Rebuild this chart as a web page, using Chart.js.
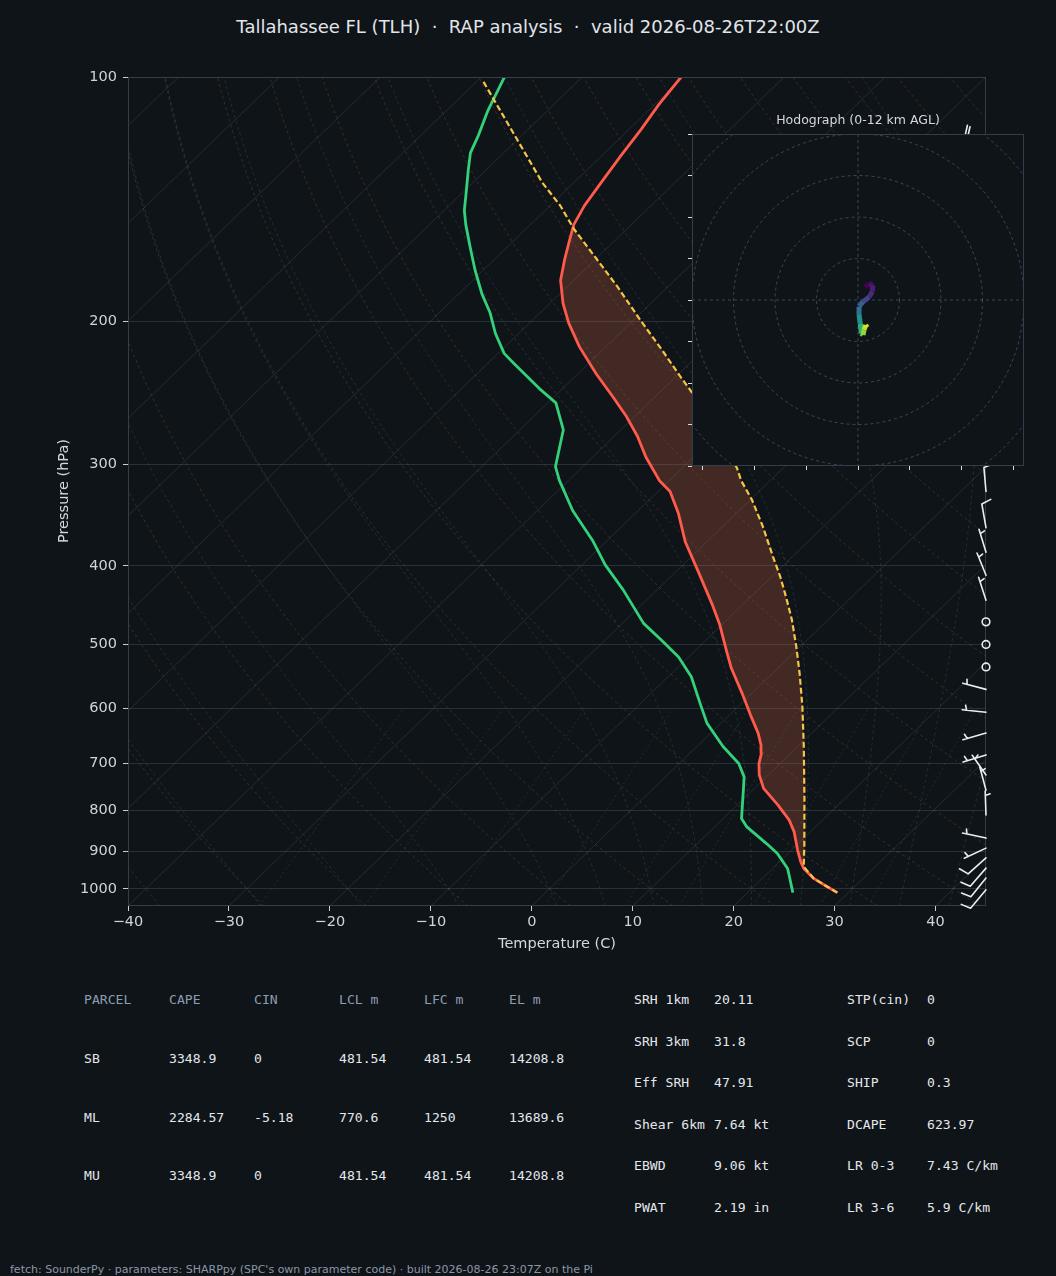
<!DOCTYPE html>
<html>
<head>
<meta charset="utf-8">
<script src="https://cdn.jsdelivr.net/npm/chart.js@4.4.1/dist/chart.umd.min.js"></script>
<style>
html,body{margin:0;padding:0;background:#0f1419;}
body{width:1056px;height:1276px;position:relative;overflow:hidden;font-family:"DejaVu Sans",sans-serif;}
#title{position:absolute;left:0;width:1056px;top:16px;text-align:center;color:#e1e5ea;font-size:18px;white-space:pre;line-height:22px;}
#skew{position:absolute;left:0;top:0;}
#hodo{position:absolute;left:660px;top:110px;}
.axlbl{position:absolute;color:#d4d8de;font-size:14.5px;white-space:pre;line-height:18px;}
#hodoTitle{position:absolute;left:758px;width:200px;top:112px;text-align:center;color:#d4d8de;font-size:12.5px;line-height:16px;}
.cell{position:absolute;font-family:"DejaVu Sans Mono",monospace;font-size:13.1px;color:#e4e7eb;white-space:pre;line-height:18px;}
.hd{color:#8d9db1;}
#foot{position:absolute;left:10px;top:1263px;font-size:11px;color:#8b97a6;white-space:pre;line-height:14px;}
</style>
</head>
<body>
<div id="title">Tallahassee FL (TLH)  ·  RAP analysis  ·  valid 2026-08-26T22:00Z</div>
<canvas id="skew" width="1056" height="960"></canvas>
<canvas id="hodo" width="380" height="380"></canvas>
<div id="hodoTitle">Hodograph (0-12 km AGL)</div>
<div class="axlbl" style="left:457px;width:200px;text-align:center;top:934px;">Temperature (C)</div>
<div class="axlbl" style="left:-37px;width:200px;text-align:center;top:482px;transform:rotate(-90deg);">Pressure (hPa)</div>
<div id="tables"></div>
<div id="foot">fetch: SounderPy · parameters: SHARPpy (SPC's own parameter code) · built 2026-08-26 23:07Z on the Pi</div>

<script>
/* ── SOUNDING DATA ── */
const tempP = [1011, 992, 971, 944, 926, 896, 851, 823, 788, 752, 724, 701, 681, 665, 643, 611, 574, 535, 510, 473,
               445, 409, 374, 345, 324, 314, 294, 277, 262, 248, 232, 215, 201, 190, 178, 168, 159, 152, 144, 135,
               125, 116, 108, 100];
const tempC = [28.9, 27.1, 25.1, 23.1, 22.1, 20.6, 18.4, 16.7, 14.0, 10.9, 9.1, 7.9, 7.1, 6.2, 4.7, 2.1, -1.0, -4.6, -6.8, -10.2,
               -13.2, -17.5, -22.1, -25.7, -28.8, -31.0, -34.7, -37.7, -40.8, -44.1, -48.2, -52.6, -56.1, -58.7, -61.3, -63.0, -64.5, -65.7, -66.6, -67.3,
               -68.1, -68.8, -69.6, -70.2];

const dewP = [1011, 944, 904, 879, 839, 819, 763, 728, 701, 668, 625, 591, 548, 518, 494, 471, 428, 399, 372, 342,
              314, 302, 272, 252, 242, 225, 219, 207, 195, 185, 173, 163, 152, 146, 139, 130, 124, 118, 110, 100];
const dewC = [24.5, 21.5, 18.9, 16.8, 13.2, 11.8, 9.4, 7.8, 5.9, 2.6, -1.4, -4.1, -7.7, -11.0, -14.4, -17.9, -23.4, -27.7, -31.5, -36.5,
              -40.9, -42.7, -45.7, -49.2, -52.3, -57.5, -59.4, -62.3, -65.0, -67.7, -70.8, -73.4, -76.4, -78.0, -79.6, -81.8, -83.3, -84.3, -85.9, -87.7];

const parcelP = [1011, 992, 971, 939, 887, 770, 668, 597, 543, 503, 466, 437, 413, 390, 358, 332, 314, 303, 245, 233,
                 218, 199, 181, 166, 154, 144, 135, 101];
const parcelC = [28.9, 27.1, 25.1, 22.9, 20.9, 15.8, 10.6, 6.4, 2.7, -0.4, -3.6, -6.5, -9.1, -11.9, -16.0, -19.8, -22.9, -24.6, -36.7, -39.8,
                 -43.8, -49.4, -55.1, -60.5, -65.2, -69.0, -73.1, -89.5];

// wind barbs: pressure (hPa), direction wind comes from (deg), speed (kt)
const barbP   = [122, 324, 359, 385, 411, 441, 469, 500, 533, 568, 606, 643, 684, 724, 756, 811, 866, 891, 916, 943, 970, 1003];
const barbDir = [300, 355, 350, 343, 338, 342, 0, 0, 0, 285, 276, 254, 253, 325, 345, 358, 282, 245, 228, 221, 219, 220];
const barbKt  = [20, 10, 10, 5, 5, 5, 0, 0, 0, 5, 5, 5, 5, 5, 5, 5, 5, 5, 10, 10, 10, 10];

// hodograph trace (kt) and height of each point (km AGL)
const hodoU  = [3.4, 5.3, 7.2, 6.9, 5.3, 2.4, 0.5, 0.5, 1.1, 1.6, 2.4, 2.9, 3.7, 4.3];
const hodoV  = [6.1, 8.0, 7.1, 4.0, 1.3, -0.8, -3.2, -7.2, -11.2, -16.1, -16.9, -14.5, -12.0, -13.2];
const hodoKm = [0, 0.5, 1, 1.5, 2.5, 3.5, 4.5, 6, 7.5, 9, 10, 10.8, 11.4, 12];

const xTicks = [-40, -30, -20, -10, 0, 10, 20, 30, 40];
const yTicks = [100, 200, 300, 400, 500, 600, 700, 800, 900, 1000];
const hodoXTicks = [-75, -50, -25, 0, 25, 50, 75];
const hodoYTicks = [-80, -60, -40, -20, 0, 20, 40, 60, 80];
const hodoRings = [20, 40, 60, 80, 100, 120];

// table text
const parcelHead = ['PARCEL', 'CAPE', 'CIN', 'LCL m', 'LFC m', 'EL m'];
const parcelRows = [
  ['SB', '3348.9', '0', '481.54', '481.54', '14208.8'],
  ['ML', '2284.57', '-5.18', '770.6', '1250', '13689.6'],
  ['MU', '3348.9', '0', '481.54', '481.54', '14208.8']
];
const paramRows = [
  ['SRH 1km', '20.11', 'STP(cin)', '0'],
  ['SRH 3km', '31.8', 'SCP', '0'],
  ['Eff SRH', '47.91', 'SHIP', '0.3'],
  ['Shear 6km', '7.64 kt', 'DCAPE', '623.97'],
  ['EBWD', '9.06 kt', 'LR 0-3', '7.43 C/km'],
  ['PWAT', '2.19 in', 'LR 3-6', '5.9 C/km']
];

/* ── STYLE ── */
const BG = '#0f1419';
const SPINE = '#343e4b';
const TICK = '#c8ced6';
const TEMP = '#ff5a4b';
const DEW = '#33d17a';
const PARCEL = '#f7c545';
const CAPE_FILL = 'rgba(232,110,70,0.24)';
const T_MIN = -40, T_MAX = 45, P_BOT = 1050, P_TOP = 100;

Chart.defaults.font.family = '"DejaVu Sans", sans-serif';

/* ── SKEW TRANSFORM ── */
function skewX(t, p) {
  return t + (T_MAX - T_MIN) * Math.log(P_BOT / p) / Math.log(P_BOT / P_TOP);
}
function pts(ps, ts) { return ps.map((p, i) => ({x: skewX(ts[i], p), y: p})); }

// CAPE area: parcel up from LFC to EL, then environment back down
const capeShape = pts(parcelP, parcelC).filter(d => d.y >= 154 && d.y <= 939)
  .concat(pts(tempP, tempC).filter(d => d.y >= 152 && d.y <= 944).reverse());

/* ── THERMO BACKGROUND (isotherms, adiabats, mixing lines) ── */
const Rd = 287.04, Cp = 1005.7, Lv = 2.501e6, EPS = 0.622;
function satVap(tc) { return 6.112 * Math.exp(17.67 * tc / (tc + 243.5)); }
function moistLapse(T, p) {
  const es = satVap(T - 273.15), rs = EPS * es / (p - es);
  return (Rd * T + Lv * rs) / (Cp + Lv * Lv * rs * EPS / (Rd * T * T)) / p;
}
function rk4(T, p, dp) {
  const k1 = moistLapse(T, p), k2 = moistLapse(T + k1 * dp / 2, p + dp / 2);
  const k3 = moistLapse(T + k2 * dp / 2, p + dp / 2), k4 = moistLapse(T + k3 * dp, p + dp);
  return T + dp * (k1 + 2 * k2 + 2 * k3 + k4) / 6;
}
function moistLine(t0) {
  let T = t0 + 273.15, p = 1000;
  const up = [[p, T - 273.15]];
  while (p > 100) { T = rk4(T, p, -10); p -= 10; up.push([p, T - 273.15]); }
  T = t0 + 273.15; p = 1000;
  const down = [];
  while (p < 1050) { T = rk4(T, p, 10); p += 10; down.push([p, T - 273.15]); }
  return down.reverse().concat(up);
}
function dryLine(t0) {
  const out = [];
  for (let i = 0; i <= 60; i++) {
    const p = P_BOT * Math.pow(P_TOP / P_BOT, i / 60);
    out.push([p, (t0 + 273.15) * Math.pow(p / 1000, 0.2857) - 273.15]);
  }
  return out;
}
function mixLine(w) {
  const out = [];
  for (let i = 0; i <= 20; i++) {
    const p = 1050 - i * 22.5;
    const e = p * w / (EPS + w), a = Math.log(e / 6.112);
    out.push([p, 243.5 * a / (17.67 - a)]);
  }
  return out;
}
const dryT0 = [];  for (let t = -30; t <= 200; t += 10) dryT0.push(t);
const moistT0 = [-40, -30, -20, -10, 0, 5, 10, 15, 20, 25, 30, 35, 40, 45];
const mixW = [0.0004, 0.001, 0.002, 0.004, 0.007, 0.01, 0.016, 0.024, 0.032];

const skewBackground = {
  id: 'skewBackground',
  beforeDatasetsDraw(chart) {
    const {ctx, chartArea: a, scales: {x, y}} = chart;
    const px = (t, p) => x.getPixelForValue(skewX(t, p));
    const py = p => y.getPixelForValue(p);
    const curve = line => {
      ctx.beginPath();
      line.forEach(([p, t], i) => i ? ctx.lineTo(px(t, p), py(p)) : ctx.moveTo(px(t, p), py(p)));
      ctx.stroke();
    };
    ctx.save();
    ctx.beginPath(); ctx.rect(a.left, a.top, a.right - a.left, a.bottom - a.top); ctx.clip();
    ctx.lineWidth = 1;
    // isotherms
    ctx.strokeStyle = 'rgba(140,160,185,0.17)';
    for (let t = -130; t <= 40; t += 10) curve([[P_BOT, t], [P_TOP, t]]);
    // dry adiabats
    ctx.setLineDash([3, 3]);
    ctx.strokeStyle = 'rgba(190,140,90,0.22)';
    dryT0.forEach(t => curve(dryLine(t)));
    // moist adiabats
    ctx.strokeStyle = 'rgba(90,160,185,0.2)';
    moistT0.forEach(t => curve(moistLine(t)));
    // mixing ratio
    ctx.setLineDash([2, 3]);
    ctx.strokeStyle = 'rgba(90,180,120,0.18)';
    mixW.forEach(w => curve(mixLine(w)));
    ctx.restore();
  }
};

/* ── WIND BARBS ── */
function drawBarb(ctx, bx, by, dir, kt, L) {
  const a = dir * Math.PI / 180;
  const dx = Math.sin(a), dy = -Math.cos(a);   // toward where the wind comes from
  const nx = Math.cos(a), ny = Math.sin(a);    // barb side
  let spd = 5 * Math.round(kt / 5);
  if (spd < 5) {
    ctx.beginPath(); ctx.arc(bx, by, 0.16 * L, 0, Math.PI * 2); ctx.stroke();
    return;
  }
  const full = Math.floor(spd / 10), half = spd % 10 >= 5;
  ctx.beginPath();
  ctx.moveTo(bx, by); ctx.lineTo(bx + dx * L, by + dy * L);
  let off = L;
  for (let k = 0; k < full; k++) {
    const qx = bx + dx * off, qy = by + dy * off;
    ctx.moveTo(qx, qy);
    ctx.lineTo(qx + nx * 0.4 * L + dx * 0.125 * L, qy + ny * 0.4 * L + dy * 0.125 * L);
    off -= 0.125 * L;
  }
  if (half) {
    if (off === L) off -= 1.5 * 0.125 * L;
    const qx = bx + dx * off, qy = by + dy * off;
    ctx.moveTo(qx, qy);
    ctx.lineTo(qx + nx * 0.2 * L + dx * 0.0625 * L, qy + ny * 0.2 * L + dy * 0.0625 * L);
  }
  ctx.stroke();
}

const skewFrame = {
  id: 'skewFrame',
  afterDatasetsDraw(chart) {
    const {ctx, chartArea: a, scales: {y}} = chart;
    ctx.save();
    ctx.strokeStyle = SPINE; ctx.lineWidth = 1;
    ctx.strokeRect(a.left + 0.5, a.top + 0.5, a.right - a.left - 1, a.bottom - a.top - 1);
    ctx.strokeStyle = '#e8edf2'; ctx.lineWidth = 1.6; ctx.lineCap = 'round';
    barbP.forEach((p, i) => drawBarb(ctx, a.right, y.getPixelForValue(p), barbDir[i], barbKt[i], 24));
    ctx.restore();
  }
};

/* ── SKEW-T CHART ── */
new Chart(document.getElementById('skew'), {
  type: 'line',
  data: {
    datasets: [
      {label: 'CAPE', data: capeShape, fill: 'shape', backgroundColor: CAPE_FILL,
       borderColor: 'transparent', borderWidth: 0, pointRadius: 0, order: 4},
      {label: 'Dewpoint', data: pts(dewP, dewC), borderColor: DEW, borderWidth: 2.8,
       borderJoinStyle: 'round', pointRadius: 0, fill: false, order: 3},
      {label: 'Temperature', data: pts(tempP, tempC), borderColor: TEMP, borderWidth: 2.8,
       borderJoinStyle: 'round', pointRadius: 0, fill: false, order: 2},
      {label: 'Parcel', data: pts(parcelP, parcelC), borderColor: PARCEL, borderWidth: 2.2,
       borderDash: [6, 3], pointRadius: 0, fill: false, order: 1}
    ]
  },
  options: {
    responsive: false, animation: false, events: [], devicePixelRatio: 1,
    layout: {padding: {left: 0, top: 77, right: 70, bottom: 0}},
    plugins: {legend: {display: false}, tooltip: {enabled: false}},
    scales: {
      x: {
        type: 'linear', min: T_MIN, max: T_MAX,
        afterBuildTicks: s => { s.ticks = xTicks.map(v => ({value: v})); },
        afterFit: s => { s.height = 54; },
        ticks: {color: '#cfd4db', font: {size: 14.5}, padding: 3, maxRotation: 0, autoSkip: false,
                callback: v => String(v).replace('-', '\u2212')},
        grid: {drawOnChartArea: false, tickLength: 5, tickColor: TICK},
        border: {display: false}
      },
      y: {
        type: 'logarithmic', reverse: true, min: P_TOP, max: P_BOT,
        afterBuildTicks: s => { s.ticks = yTicks.map(v => ({value: v})); },
        afterFit: s => { s.width = 128; },
        ticks: {color: '#cfd4db', font: {size: 14.5}, padding: 6, autoSkip: false, callback: v => String(v)},
        grid: {color: '#28303a', lineWidth: 1, tickLength: 5, tickColor: TICK},
        border: {display: false}
      }
    }
  },
  plugins: [skewBackground, skewFrame]
});

/* ── HODOGRAPH ── */
const VIRIDIS = ['#440154', '#482475', '#414487', '#355f8d', '#2a788e', '#21918c', '#22a884', '#44bf70', '#7ad151', '#bddf26', '#fde725'];
function hexRgb(h) { return [1, 3, 5].map(k => parseInt(h.slice(k, k + 2), 16)); }
function viridis(f) {
  f = Math.max(0, Math.min(1, f));
  const i = Math.min(9, Math.floor(f * 10)), t = f * 10 - i;
  const a = hexRgb(VIRIDIS[i]), b = hexRgb(VIRIDIS[i + 1]);
  return 'rgb(' + a.map((v, k) => Math.round(v + (b[k] - v) * t)).join(',') + ')';
}

const hodoFrame = {
  id: 'hodoFrame',
  beforeDraw(chart) {
    const {ctx, chartArea: a} = chart;
    ctx.save(); ctx.fillStyle = BG;
    ctx.fillRect(a.left, a.top, a.right - a.left, a.bottom - a.top);
    ctx.restore();
  },
  beforeDatasetsDraw(chart) {
    const {ctx, chartArea: a, scales: {x, y}} = chart;
    const cx = x.getPixelForValue(0), cy = y.getPixelForValue(0);
    ctx.save();
    ctx.beginPath(); ctx.rect(a.left, a.top, a.right - a.left, a.bottom - a.top); ctx.clip();
    ctx.strokeStyle = 'rgba(110,130,155,0.45)'; ctx.lineWidth = 1; ctx.setLineDash([3, 3]);
    hodoRings.forEach(r => {
      ctx.beginPath(); ctx.arc(cx, cy, x.getPixelForValue(r) - cx, 0, Math.PI * 2); ctx.stroke();
    });
    ctx.beginPath(); ctx.moveTo(a.left, cy); ctx.lineTo(a.right, cy);
    ctx.moveTo(cx, a.top); ctx.lineTo(cx, a.bottom); ctx.stroke();
    ctx.restore();
  },
  afterDatasetsDraw(chart) {
    const {ctx, chartArea: a} = chart;
    ctx.save(); ctx.strokeStyle = SPINE; ctx.lineWidth = 1;
    ctx.strokeRect(a.left + 0.5, a.top + 0.5, a.right - a.left - 1, a.bottom - a.top - 1);
    ctx.restore();
  }
};

new Chart(document.getElementById('hodo'), {
  type: 'line',
  data: {
    datasets: [{
      data: hodoU.map((u, i) => ({x: u, y: hodoV[i]})),
      borderWidth: 5, pointRadius: 0, fill: false, borderCapStyle: 'butt',
      segment: {borderColor: c => viridis(hodoKm[c.p0DataIndex] / 12)}
    }]
  },
  options: {
    responsive: false, animation: false, events: [], devicePixelRatio: 1,
    layout: {padding: {left: 0, top: 24, right: 16, bottom: 0}},
    plugins: {legend: {display: false}, tooltip: {enabled: false}},
    scales: {
      x: {
        type: 'linear', min: -80, max: 80,
        afterBuildTicks: s => { s.ticks = hodoXTicks.map(v => ({value: v})); },
        afterFit: s => { s.height = 24; },
        ticks: {display: false},
        grid: {drawOnChartArea: false, tickLength: 4, tickColor: '#d6dbe1'},
        border: {display: false}
      },
      y: {
        type: 'linear', min: -80, max: 80,
        afterBuildTicks: s => { s.ticks = hodoYTicks.map(v => ({value: v})); },
        afterFit: s => { s.width = 32; },
        ticks: {display: false},
        grid: {drawOnChartArea: false, tickLength: 4, tickColor: '#d6dbe1'},
        border: {display: false}
      }
    }
  },
  plugins: [hodoFrame]
});

/* ── TABLES ── */
const tables = document.getElementById('tables');
function cell(txt, x, y, cls) {
  const d = document.createElement('div');
  d.className = 'cell' + (cls ? ' ' + cls : '');
  d.style.left = x + 'px'; d.style.top = (y - 9) + 'px';
  d.textContent = txt;
  tables.appendChild(d);
}
const leftCols = [84, 169, 254, 339, 424, 509];
parcelHead.forEach((t, c) => cell(t, leftCols[c], 1000, 'hd'));
parcelRows.forEach((row, r) => row.forEach((t, c) => cell(t, leftCols[c], 1059 + r * 58.7)));
const rightCols = [634, 714, 847, 927];
paramRows.forEach((row, r) => row.forEach((t, c) => cell(t, rightCols[c], 1000 + r * 41.5)));
</script>
</body>
</html>
